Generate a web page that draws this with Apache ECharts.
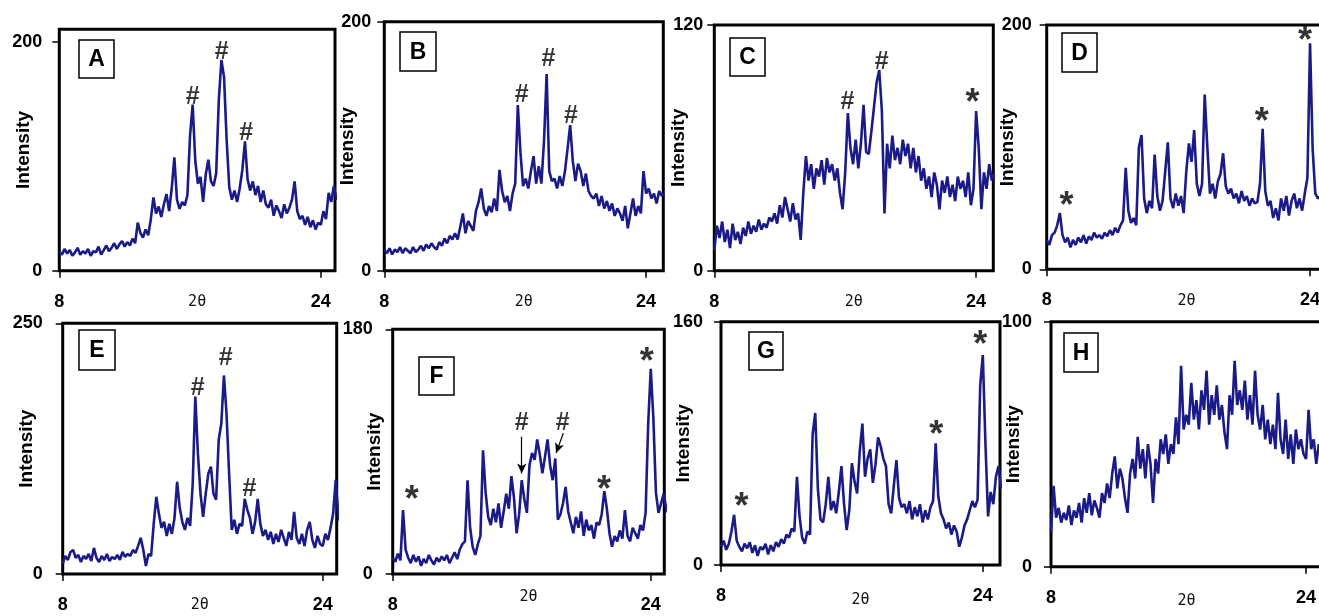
<!DOCTYPE html>
<html><head><meta charset="utf-8">
<script src="https://cdn.jsdelivr.net/npm/echarts@6/dist/echarts.min.js"></script>
<style>html,body{margin:0;padding:0;background:#fff}#c{width:1319px;height:616px}</style>
</head><body><div id="c"></div>
<script>
// 2θ sampling grid (degrees)
const twoTheta = [8,8.16,8.32,8.48,8.64,8.8,8.96,9.12,9.28,9.44,9.6,9.76,9.92,10.08,10.24,10.4,10.56,10.72,10.88,11.04,
11.2,11.36,11.52,11.68,11.84,12,12.16,12.32,12.48,12.64,12.8,12.96,13.12,13.28,13.44,13.6,13.76,13.92,14.08,14.24,
14.4,14.56,14.72,14.88,15.04,15.2,15.36,15.52,15.68,15.84,16,16.16,16.32,16.48,16.64,16.8,16.96,17.12,17.28,17.44,
17.6,17.76,17.92,18.08,18.24,18.4,18.56,18.72,18.88,19.04,19.2,19.36,19.52,19.68,19.84,20,20.16,20.32,20.48,20.64,
20.8,20.96,21.12,21.28,21.44,21.6,21.76,21.92,22.08,22.24,22.4,22.56,22.72,22.88,23.04,23.2,23.36,23.52,23.68,23.84,
24,24.16,24.32,24.48,24.64,24.8,24.96,25.12];

const A_int = [17,14,19,15,18,13,16,20,14,17, 15,19,13,17,16,21,14,18,22,17, 20,24,19,23,26,21,25,22,28,24,
42,33,29,36,31, 45,64,50,56,47, 58,67,52,72,99, 62,54,60,57,66, 118,145,96,76,82, 60,84,97,78,74,
85,149,184,169,114, 73,62,70,60,72, 88,113,80,70,78, 66,74,60,70,58, 55,62,48,57,52, 46,58,50,55,62,
78,52,45,48,40, 47,38,44,36,42, 40,52,45,68,60, 74,62,66];
const B_int = [17,14,18,13,17,15,19,14,18,16, 14,19,15,17,20,16,21,18,22,19, 17,23,20,26,22,28,25,30,25,35,
46,30,40,36,32, 48,55,66,50,44, 52,47,58,48,81, 64,55,60,48,62, 70,133,95,68,74, 66,80,92,70,84,
70,104,158,80,72, 74,66,76,68,80, 98,117,88,72,86, 80,68,78,64,60, 58,62,52,60,50, 56,48,54,44,50,
46,40,52,34,46, 58,44,52,46,80, 62,66,58,62,54, 64,60,62];
const C_int = [10,22,16,24,14,20,11,23,15,19, 13,21,17,24,18,22,19,25,20,23, 21,26,24,28,23,32,26,36,30,24,
33,25,28,15,38, 56,44,52,40,50, 46,54,42,55,48, 52,44,50,38,30, 48,77,60,52,64, 50,62,81,58,57,
68,80,92,98,78, 28,62,50,66,54, 60,52,64,56,62, 50,60,48,56,44, 50,40,46,36,48, 42,30,44,38,46,
36,42,34,46,40, 44,36,48,32,40, 78,60,30,48,40, 52,44,48];
const D_int = [24,20,28,30,36,46,28,22,26,18, 24,20,26,22,28,21,27,24,30,26, 28,25,30,27,32,28,34,30,36,40,
83,48,38,42,36, 100,110,58,46,56, 50,94,60,48,56, 80,104,58,50,62, 52,60,46,80,103, 88,114,70,60,70,
143,100,62,70,58, 72,78,95,68,62, 66,58,62,54,64, 56,60,52,58,54, 55,70,115,64,52, 56,42,50,40,58,
48,60,44,56,62, 50,58,48,62,75, 185,98,62,58,60, 56,62,58];
const E_int = [10,18,14,22,24,16,19,12,18,15, 20,13,26,16,12,18,14,20,13,17, 15,19,14,22,17,20,18,24,21,28,
36,24,8,20,18, 50,77,60,46,52, 38,50,40,56,92, 66,52,44,56,48, 90,177,120,80,57, 80,100,107,80,74,
134,150,198,160,100, 44,54,40,50,48, 75,64,56,40,52, 75,50,38,44,34, 42,30,40,32,44, 36,28,42,34,62,
36,30,40,28,44, 52,34,26,38,30, 28,40,34,46,60, 94,58,50];
const F_int = [12,9,15,10,47,18,12,8,14,9, 13,6,11,8,14,10,7,12,9,13, 10,14,8,12,16,11,18,22,24,69,
34,20,14,22,28, 91,60,42,36,48, 38,52,34,46,59, 48,72,56,30,44, 69,55,45,80,89, 84,99,88,74,86,
99,80,69,85,40, 44,52,64,46,38, 30,42,34,46,28, 40,32,36,26,38, 36,44,61,48,30, 20,28,24,32,26,
47,28,24,34,30, 26,36,32,45,110, 151,115,60,45,52, 59,48,44];
const G_int = [12,16,10,14,22,33,16,12,9,14, 11,15,8,13,6,12,10,14,7,13, 9,15,12,17,14,20,18,24,22,58,
32,18,14,22,20, 86,100,50,30,28, 40,58,36,42,34, 48,65,40,23,36, 67,55,47,75,93, 58,70,76,54,66,
84,78,70,65,40, 34,52,69,44,38, 40,34,42,30,38, 32,40,28,36,30, 38,42,80,45,34, 30,24,28,20,26,
22,12,18,26,30, 36,42,38,43,118, 138,80,32,48,40, 58,65,50];
const H_int = [14,33,20,24,18,22,19,25,17,23, 20,26,18,28,22,30,21,27,24,20, 30,26,34,28,38,45,32,40,36,28,
22,38,44,36,53, 40,48,36,50,42, 26,44,38,52,46, 54,42,50,46,61, 50,82,56,62,58, 75,60,68,56,72,
64,80,58,70,62, 74,60,66,55,48, 70,62,84,66,72, 64,76,60,70,58, 80,62,56,66,52, 60,50,58,48,71,
52,46,60,44,54, 42,56,48,52,46, 44,64,48,52,42, 50,46,48];

// peak annotations [2θ, intensity, symbol]
const A_marks = [[16.16,152,'#'],[17.94,191,'#'],[19.43,120,'#']];
const B_marks = [[16.4,141,'#'],[18.03,170,'#'],[19.41,124,'#']];
const C_marks = [[16.13,82.5,'#'],[18.23,102,'#'],[23.78,84,'*']];
const D_marks = [[9.2,55,'*'],[21.06,124,'*'],[23.7,190,'*']];
const E_marks = [[16.31,185,'#'],[18.03,215,'#'],[19.49,85,'#']];
const F_marks = [[9.18,57,'*'],[16.0,111,'#'],[18.54,111,'#'],[21.1,65,'*'],[23.75,159,'*']];
const G_marks = [[9.26,40.5,'*'],[21.15,88,'*'],[23.84,147,'*']];
const H_marks = [];
const F_arrows = [[[16.0,101],[16.0,74]],[[18.58,103.5],[18.13,89]]];

const xTicks = [8,24];
const yTops = {A:200,B:200,C:120,D:200,E:250,F:180,G:160,H:100};

const panels = [
 {letter:'A', data:A_int, marks:A_marks, g:[59.3,29.3,275.7,241.4], xMax:24.87, yMax:210.8, lm:17, ng:26, tg:24, box:[79,40,35,38]},
 {letter:'B', data:B_int, marks:B_marks, g:[384.3,21.7,279,249], xMax:25.05, yMax:200, lm:13, ng:27, tg:24.5, box:[400,32,36,39]},
 {letter:'C', data:C_int, marks:C_marks, g:[714.3,25,279,245.7], xMax:25.05, yMax:120, lm:11, ng:26, tg:24, box:[730,38,35,38]},
 {letter:'D', data:D_int, marks:D_marks, g:[1046.7,25,279.8,244.3], xMax:25.0, yMax:200, lm:15, ng:29, tg:24.5, box:[1062,33,35,39]},
 {letter:'E', data:E_int, marks:E_marks, g:[62.7,323.3,274,250.7], xMax:24.86, yMax:250, lm:20, ng:26, tg:24, box:[79,330,36,40]},
 {letter:'F', data:F_int, marks:F_marks, g:[392.7,329.3,271.6,244.7], xMax:24.84, yMax:180, lm:20, ng:8, tg:16, box:[419,357,35,38]},
 {letter:'G', data:G_int, marks:G_marks, g:[721,321.7,279,243.3], xMax:25.05, yMax:160, lm:18, ng:28, tg:28, box:[749,332,34,38]},
 {letter:'H', data:H_int, marks:H_marks, g:[1051,321.7,271,245], xMax:25.0, yMax:100, lm:19, ng:28, tg:27, box:[1064,333,34,39]}
];

const SANS = '"Liberation Sans", Arial, sans-serif';
const grids = [], xAxes = [], yAxes = [], series = [], graphics = [];
panels.forEach((p, i) => {
  const top = yTops[p.letter];
  const yT = [0, top];
  grids.push({left:p.g[0], top:p.g[1], width:p.g[2], height:p.g[3], show:true, borderColor:'#000', borderWidth:3,
    backgroundColor:'transparent', containLabel:false, outerBoundsMode:'none'});
  xAxes.push({gridIndex:i, type:'value', min:8, max:p.xMax, interval:16,
    axisLine:{show:false}, splitLine:{show:false},
    axisTick:{show:true, customValues:xTicks, length:7, lineStyle:{color:'#000', width:1.5}},
    axisLabel:{customValues:xTicks, margin:22, fontSize:18, fontWeight:'bold', color:'#000', fontFamily:SANS,
      formatter: v => xTicks.indexOf(v) >= 0 ? String(v) : ''},
    name:'2θ', nameLocation:'middle', nameGap:p.tg - 0.5, nameMoveOverlap:false,
    nameTextStyle:{fontFamily:'"DejaVu Sans Mono", monospace', fontSize:15, color:'#111'}});
  yAxes.push({gridIndex:i, type:'value', min:0, max:p.yMax, interval:top,
    axisLine:{show:false}, splitLine:{show:false},
    axisTick:{show:true, customValues:yT, length:7, lineStyle:{color:'#000', width:1.5}},
    axisLabel:{customValues:yT, margin:p.lm, fontSize:18, fontWeight:'bold', color:'#000', fontFamily:SANS,
      formatter: v => yT.indexOf(v) >= 0 ? String(v) : ''},
    name:'Intensity', nameLocation:'middle', nameGap:p.ng, nameMoveOverlap:false,
    nameTextStyle:{fontFamily:SANS, fontSize:19, fontWeight:'bold', color:'#000'}});
  const line = {type:'line', xAxisIndex:i, yAxisIndex:i, data: twoTheta.map((x,k)=>[x, p.data[k]]),
    showSymbol:false, symbol:'none', lineStyle:{color:'#1a1a88', width:2.6}, animation:false, silent:true, z:3};
  if (p.letter === 'F') {
    line.markLine = {silent:true, symbol:['none','arrow'], symbolSize:[7,10], animation:false,
      lineStyle:{color:'#000', width:1.2, type:'solid'}, label:{show:false},
      data: F_arrows.map(a => [{coord:a[0]}, {coord:a[1]}])};
  }
  series.push(line);
  if (p.marks.length) {
    series.push({type:'scatter', xAxisIndex:i, yAxisIndex:i, symbolSize:0, silent:true, animation:false, z:5,
      label:{show:true, position:'inside', formatter:'{b}', color:'#000', fontWeight:'bold', fontFamily:SANS},
      data: p.marks.map(m => ({value:[m[0], m[1]], name:m[2],
        label: m[2] === '*' ? {fontSize:36, offset:[0,5]} : {fontSize:25}}))});
  }
  const b = p.box;
  graphics.push({type:'rect', shape:{x:b[0], y:b[1], width:b[2], height:b[3]}, style:{fill:'#fff', stroke:'#000', lineWidth:1.5}, z:10});
  graphics.push({type:'text', x:b[0]+b[2]/2, y:b[1]+b[3]/2+1, z:11,
    style:{text:p.letter, font:'bold 23px "Liberation Sans", Arial, sans-serif', fill:'#000', align:'center', verticalAlign:'middle'}});
});

const chart = echarts.init(document.getElementById('c'));
chart.setOption({animation:false, backgroundColor:'#fff', grid:grids, xAxis:xAxes, yAxis:yAxes, series:series, graphic:graphics});
</script></body></html>
